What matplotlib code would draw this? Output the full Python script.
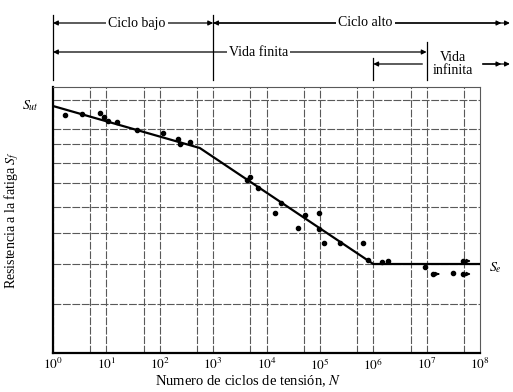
import numpy as np
import matplotlib
matplotlib.use("Agg")
import matplotlib.pyplot as plt
import matplotlib.transforms as mtransforms

plt.rcParams['font.family'] = ['Liberation Serif', 'DejaVu Serif']
plt.rcParams['mathtext.fontset'] = 'stix'

# curva S-N (unidades arbitrarias de resistencia)
curva_N = [1, 10 ** 2.75, 1e6, 1e8]
curva_S = [247, 205, 89, 89]

# puntos de ensayo
log_N = [0.22, 0.54, 0.88, 0.96, 1.03, 1.20, 1.57, 2.06, 2.34, 2.38, 2.57,
         3.63, 3.69, 3.84, 4.27, 4.16, 4.72, 4.98, 4.59, 4.98, 5.07, 5.37,
         5.81, 5.90, 6.16, 6.27, 6.97, 7.12, 7.49]
S_f = [238, 239, 240, 236, 232, 231, 223, 220, 214, 209, 211,
       173, 176, 165, 150, 140, 138, 140, 125, 124, 110, 110,
       110, 93, 91, 92, 86, 79, 80]

# probetas que no fallaron (con flecha)
runout_logN = [7.68, 7.68]
runout_S = [79, 92]

grid_S = [49, 89, 120, 146, 170, 190, 209, 224, 253]
decadas = np.arange(0, 9)
tick_labels = [r'$10^{%d}$' % d for d in decadas]

fig = plt.figure(figsize=(5.13, 3.92), dpi=100)
ax = fig.add_axes([53 / 513, 39 / 392, 427 / 513, 266 / 392])
ax.set_xscale('log')
ax.set_xlim(1, 1e8)
ax.set_ylim(0, 266)

gcol = '0.35'
for d in decadas[:-1]:
    ax.axvline(10.0 ** d, color=gcol, lw=0.8, ls=(0, (7, 1.5)), zorder=1)
    ax.axvline(5 * 10.0 ** d, color=gcol, lw=0.8, ls=(0, (7, 1.5)), zorder=1)
for s in grid_S:
    ax.axhline(s, color=gcol, lw=0.8, ls=(0, (7, 1.5)), zorder=1)

ax.plot(curva_N, curva_S, color='k', lw=1.6, zorder=3)
ax.plot(10 ** np.array(log_N), S_f, 'o', color='k', ms=3.0, zorder=4)
ax.plot(10 ** np.array(runout_logN), runout_S, 'o', color='k', ms=3.0, zorder=4)
for x, y in zip(runout_logN, runout_S):
    ax.annotate('', xy=(10 ** (x + 0.2), y), xytext=(10 ** (x + 0.04), y),
                arrowprops=dict(arrowstyle='-|>', color='k', lw=0.8, mutation_scale=6))
ax.annotate('', xy=(10 ** 7.3, 79), xytext=(10 ** 7.16, 79),
            arrowprops=dict(arrowstyle='-|>', color='k', lw=0.8, mutation_scale=6))

ax.set_xticks(10.0 ** decadas)
ax.set_xticklabels(tick_labels, fontsize=9.5)
ax.minorticks_off()
ax.set_yticks([])
ax.tick_params(axis='x', length=0, pad=3)
for side in ['top', 'right']:
    ax.spines[side].set_linewidth(0.8)
    ax.spines[side].set_color(gcol)
for side in ['left', 'bottom']:
    ax.spines[side].set_linewidth(1.6)

ax.text(0.55, 247, r'$S_{ut}$', fontsize=10, ha='right', va='center')
ax.text(10 ** 8.17, 85, r'$S_e$', fontsize=10, ha='left', va='center')

fig.text(12 / 513, 1 - 220 / 392, r'Resistencia a la fatiga $S_f$', rotation=90,
         fontsize=10, ha='center', va='center')
fig.text(248 / 513, 1 - 381 / 392, r'Numero de ciclos de tensión, $N$',
         fontsize=10.5, ha='center', va='center')

# anotaciones superiores
trans = mtransforms.blended_transform_factory(ax.transData, fig.transFigure)


def fy(py):
    return 1 - py / 392


for xv, y0, y1 in [(1, 15, 80), (1e3, 15, 80), (1e7, 42, 80), (1e6, 58, 80)]:
    ax.plot([xv, xv], [fy(y0), fy(y1)], color='k', lw=0.9, transform=trans, clip_on=False)


def flecha(x0, x1, py, estilo='-|>'):
    ax.annotate('', xy=(x1, fy(py)), xytext=(x0, fy(py)), xycoords=trans, textcoords=trans,
                arrowprops=dict(arrowstyle=estilo, color='k', lw=0.9, mutation_scale=7,
                                shrinkA=0, shrinkB=0))


def rotulo(x, py, txt):
    ax.text(x, fy(py), txt, transform=trans, fontsize=10, ha='center', va='center',
            bbox=dict(fc='white', ec='none', pad=1.5), zorder=5)


xfin = 10 ** 8.56
flecha(1, 1e3, 23, '<|-|>')
rotulo(10 ** 1.57, 23, 'Ciclo bajo')
flecha(1e3, xfin, 23, '<|-|>')
flecha(1e3, 10 ** 8.4, 23)
rotulo(10 ** 5.85, 23, 'Ciclo alto')

flecha(1, 1e7, 52, '<|-|>')
rotulo(10 ** 3.85, 52, 'Vida finita')

flecha(10 ** 6.92, 1e6, 64)
flecha(10 ** 8.05, xfin, 64)
flecha(10 ** 8.05, 10 ** 8.4, 64)
ax.text(10 ** 7.5, fy(64), 'Vida\ninfinita', transform=trans, fontsize=10,
        ha='center', va='center', linespacing=0.95)

fig.savefig('out.png', dpi=100)
